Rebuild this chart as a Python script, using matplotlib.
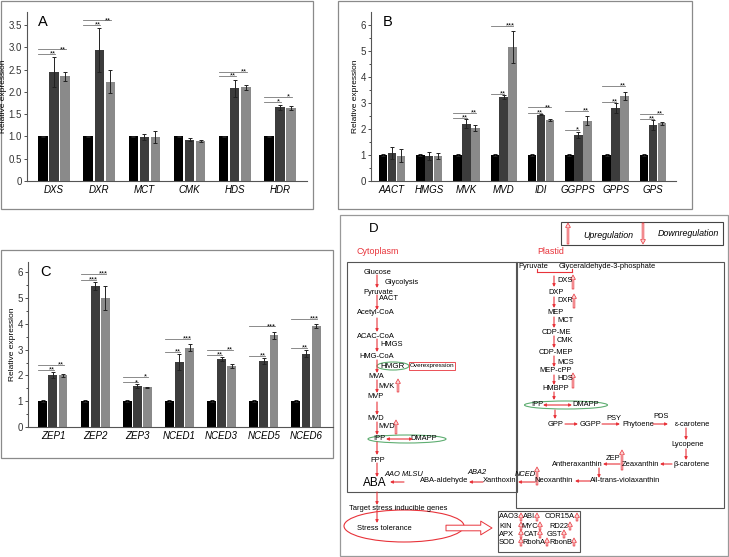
import numpy as np
import matplotlib
matplotlib.use('Agg')
import matplotlib.pyplot as plt
from matplotlib.patches import Rectangle, Ellipse, FancyArrowPatch

plt.rcParams['font.family'] = ['Liberation Sans', 'DejaVu Sans']

W, H = 729, 557
RED = '#e8333a'
GREEN = '#5fae72'

# ---- data: A (MEP pathway genes) ----
genes_a = ['DXS', 'DXR', 'MCT', 'CMK', 'HDS', 'HDR']
a_wt = [1.0, 1.0, 1.0, 1.0, 1.0, 1.0]
a_oe1 = [2.44, 2.93, 0.99, 0.93, 2.08, 1.65]
a_oe2 = [2.35, 2.23, 0.99, 0.90, 2.10, 1.64]
a_wt_err = [0.02, 0.02, 0.02, 0.02, 0.02, 0.02]
a_oe1_err = [0.33, 0.49, 0.07, 0.03, 0.19, 0.05]
a_oe2_err = [0.10, 0.25, 0.14, 0.03, 0.06, 0.05]
a_sig1 = ['**', '**', '', '', '**', '*']
a_sig2 = ['**', '**', '', '', '**', '*']

# ---- data: B (MVA pathway genes) ----
genes_b = ['AACT', 'HMGS', 'MVK', 'MVD', 'IDI', 'GGPPS', 'GPPS', 'GPS']
b_wt = [1.0, 1.0, 1.0, 1.0, 1.0, 1.0, 1.0, 1.0]
b_oe1 = [1.08, 0.96, 2.20, 3.22, 2.55, 1.77, 2.80, 2.16]
b_oe2 = [0.97, 0.95, 2.05, 5.15, 2.35, 2.32, 3.27, 2.22]
b_wt_err = [0.03, 0.03, 0.03, 0.03, 0.03, 0.03, 0.03, 0.03]
b_oe1_err = [0.22, 0.14, 0.17, 0.07, 0.03, 0.13, 0.20, 0.18]
b_oe2_err = [0.25, 0.12, 0.12, 0.62, 0.03, 0.17, 0.17, 0.05]
b_sig1 = ['', '', '**', '**', '**', '*', '**', '**']
b_sig2 = ['', '', '**', '***', '**', '**', '**', '**']

# ---- data: C (ABA pathway genes) ----
genes_c = ['ZEP1', 'ZEP2', 'ZEP3', 'NCED1', 'NCED3', 'NCED5', 'NCED6']
c_wt = [1.0, 1.0, 1.0, 1.0, 1.0, 1.0, 1.0]
c_oe1 = [2.02, 5.47, 1.58, 2.52, 2.63, 2.55, 2.85]
c_oe2 = [2.00, 5.00, 1.55, 3.08, 2.38, 3.55, 3.92]
c_wt_err = [0.03, 0.03, 0.03, 0.03, 0.03, 0.03, 0.03]
c_oe1_err = [0.10, 0.17, 0.07, 0.32, 0.07, 0.12, 0.12]
c_oe2_err = [0.05, 0.48, 0.02, 0.13, 0.08, 0.15, 0.07]
c_sig1 = ['**', '***', '*', '**', '**', '**', '**']
c_sig2 = ['**', '***', '*', '***', '**', '***', '***']

fig = plt.figure(figsize=(W / 100, H / 100), dpi=100)

# overlay in pixel coordinates for frames and the pathway diagram
ov = fig.add_axes([0, 0, 1, 1])
ov.set_xlim(0, W)
ov.set_ylim(H, 0)
ov.axis('off')


def px_axes(x0, y0, x1, y1):
    a = fig.add_axes([x0 / W, 1 - y1 / H, (x1 - x0) / W, (y1 - y0) / H])
    a.set_facecolor('none')
    return a


def frame(x0, y0, x1, y1, ec='#8a8a8a', lw=0.9):
    ov.add_patch(Rectangle((x0, y0), x1 - x0, y1 - y0, fill=False, ec=ec, lw=lw))


def bar_panel(ax, genes, vals, errs, sig1, sig2, ymax, xl, xr, width, off,
              pad, step, letter, yticks, ylabels):
    x = np.arange(len(genes))
    colors = ['black', '#3c3c3c', '#8a8a8a']
    for i in range(3):
        ax.bar(x + (i - 1) * off, vals[i], width, color=colors[i],
               yerr=errs[i], error_kw=dict(elinewidth=0.7, capsize=1.6,
                                           capthick=0.7, ecolor='#222222'))
    for j in range(len(genes)):
        h1 = vals[1][j] + errs[1][j] + pad
        h2 = max(h1, vals[2][j] + errs[2][j]) + step
        left = x[j] - off - width / 2
        if sig1[j]:
            ax.plot([left, x[j] + 0.02], [h1, h1], color='#777777', lw=0.6)
            ax.text(x[j] - 0.03, h1, sig1[j], fontsize=5.5, ha='center', va='center')
        if sig2[j]:
            ax.plot([left, x[j] + off + 0.02], [h2, h2], color='#777777', lw=0.6)
            ax.text(x[j] + off - 0.05, h2, sig2[j], fontsize=5.5, ha='center', va='center')
    ax.set_xlim(xl, xr)
    ax.set_ylim(0, ymax)
    ax.set_xticks(x)
    ax.set_xticklabels(genes, fontsize=7, style='italic')
    ax.set_yticks(yticks)
    ax.set_yticklabels(ylabels, fontsize=7)
    ax.tick_params(axis='x', length=0, pad=3)
    ax.tick_params(axis='y', length=2.5, width=0.6, pad=1, colors='#333333')
    for s in ['top', 'right']:
        ax.spines[s].set_visible(False)
    for s in ['left', 'bottom']:
        ax.spines[s].set_color('#555555')
        ax.spines[s].set_linewidth(0.8)
    ax.set_ylabel('Relative expression', fontsize=6, labelpad=1)
    ax.text(0.04, 0.98, letter, transform=ax.transAxes, fontsize=10.5,
            ha='left', va='top')


# panel frames
frame(1, 1, 313, 209)
frame(338, 1, 692, 209)
frame(1, 250, 333, 458)
frame(340, 215, 728, 556, ec='#999999')

# A
axA = px_axes(27, 12, 307, 181)
bar_panel(axA, genes_a, [a_wt, a_oe1, a_oe2], [a_wt_err, a_oe1_err, a_oe2_err],
          a_sig1, a_sig2, 3.79, -0.6, 5.6, 0.21, 0.245, 0.08, 0.1, 'A',
          np.arange(0, 3.6, 0.5), ['0', '0.5', '1.0', '1.5', '2.0', '2.5', '3.0', '3.5'])

# B
axB = px_axes(371, 12, 676, 181)
bar_panel(axB, genes_b, [b_wt, b_oe1, b_oe2], [b_wt_err, b_oe1_err, b_oe2_err],
          b_sig1, b_sig2, 6.5, -0.56, 7.62, 0.23, 0.24, 0.05, 0.2, 'B',
          np.arange(0, 7), [str(v) for v in range(7)])
axB.set_yticks(np.arange(0.5, 6.5, 1), minor=True)
axB.tick_params(axis='y', which='minor', length=1.5, width=0.5)

# C
axC = px_axes(28, 262, 333, 427)
bar_panel(axC, genes_c, [c_wt, c_oe1, c_oe2], [c_wt_err, c_oe1_err, c_oe2_err],
          c_sig1, c_sig2, 6.4, -0.59, 6.64, 0.21, 0.24, 0.08, 0.2, 'C',
          np.arange(0, 7), [str(v) for v in range(7)])
axC.set_yticks(np.arange(0.5, 6.5, 1), minor=True)
axC.tick_params(axis='y', which='minor', length=1.5, width=0.5)


# ---- D: pathway diagram ----
def txt(x, y, s, size=5.4, ha='center', **kw):
    ov.text(x, y, s, fontsize=size, ha=ha, va='center', **kw)


def arr(x0, y0, x1, y1, style='-|>'):
    ov.annotate('', xy=(x1, y1), xytext=(x0, y0),
                arrowprops=dict(arrowstyle=style, color=RED, lw=0.8,
                                mutation_scale=4, shrinkA=0, shrinkB=0))


def reg(x, y0, y1, fc='#fbd3d3'):
    ov.add_patch(FancyArrowPatch((x, y0), (x, y1),
                                 arrowstyle='simple,head_length=0.45,head_width=0.5,tail_width=0.18',
                                 mutation_scale=7, fc=fc, ec=RED, lw=0.5,
                                 shrinkA=0, shrinkB=0))


txt(374, 229, 'D', size=9.5)
frame(561, 222, 723, 245, ec='#444444', lw=0.8)
reg(568, 244, 223)
txt(608, 236, 'Upregulation', size=6.4, style='italic')
reg(643, 223, 244)
txt(688, 233, 'Downregulation', size=6.4, style='italic')
txt(378, 252, 'Cytoplasm', size=6.4, color=RED)
txt(551, 252, 'Plastid', size=6.4, color=RED)

frame(347, 262, 517, 492, ec='#555555', lw=0.8)
frame(516, 262, 724, 508, ec='#555555', lw=0.8)

# cytoplasm (MVA)
txt(378, 272, 'Glucose')
txt(385, 282, 'Glycolysis', ha='left')
txt(378, 292, 'Pyruvate')
txt(379, 299, 'AACT', ha='left')
txt(376, 313, 'Acetyl-CoA')
txt(376, 336, 'ACAC-CoA')
txt(380, 345, 'HMGS', ha='left')
txt(377, 356, 'HMG-CoA')
txt(393, 366, 'HMGR', size=5.8)
ov.add_patch(Ellipse((393, 366), 32, 8, fill=False, ec=GREEN, lw=0.8))
ov.add_patch(Rectangle((409, 362), 46, 8, fill=False, ec=RED, lw=0.6))
txt(432, 366, 'Overexpression', size=4.6)
txt(376, 377, 'MVA')
txt(378, 386, 'MVK', ha='left')
reg(398, 392, 379)
txt(376, 397, 'MVP')
txt(376, 418, 'MVD')
txt(378, 427, 'MVD', ha='left')
reg(396, 434, 420)
txt(379, 439, 'IPP')
txt(424, 439, 'DMAPP')
arr(386, 439, 413, 439, style='<|-|>')
ov.add_patch(Ellipse((407, 439), 78, 8, fill=False, ec=GREEN, lw=0.8))
txt(378, 460, 'FPP')
txt(384, 474, 'AAO MLSU', ha='left', style='italic')
txt(375, 483, 'ABA', size=8.5)
for y0, y1 in [(275, 288), (295, 310), (318, 332), (339, 352), (360, 373),
               (380, 393), (402, 415), (422, 435), (442, 455), (463, 477),
               (492, 505), (510, 523)]:
    arr(377, y0, 377, y1)
arr(404, 482, 390, 482)
txt(444, 481, 'ABA-aldehyde')
arr(483, 482, 469, 482)
txt(477, 473, 'ABA2', style='italic')
txt(500, 481, 'Xanthoxin')

txt(398, 508, 'Target stress inducible genes')
txt(384, 529, 'Stress tolerance')
ov.add_patch(Ellipse((404, 526), 120, 32, fill=False, ec=RED, lw=0.8))
ov.add_patch(FancyArrowPatch((446, 528), (492, 528),
                             arrowstyle='simple,head_length=0.9,head_width=1.1,tail_width=0.45',
                             mutation_scale=9, fc='white', ec=RED, lw=0.7,
                             shrinkA=0, shrinkB=0))

# stress genes box
frame(498, 511, 580, 552, ec='#555555', lw=0.8)
rows = [517, 526, 534, 542]
for s, y in zip(['AAO3', 'KIN', 'APX', 'SOD'], rows):
    txt(499, y, s, ha='left')
    reg(521, y + 4, y - 4)
for s, y, xa in zip(['ABI', 'MYC', 'CAT', 'RbohA'], rows, [537, 540, 540, 547]):
    txt(xa - 2, y, s, ha='right')
    reg(xa, y + 4, y - 4)
for s, y, xa in zip(['COR15A', 'RD22', 'GST', 'RbonB'], rows, [577, 570, 564, 574]):
    txt(xa - 2, y, s, ha='right')
    reg(xa, y + 4, y - 4)

# plastid (MEP)
txt(533, 267, 'Pyruvate')
txt(607, 267, 'Glyceraldehyde-3-phosphate')
ov.plot([537, 572], [272, 272], color=RED, lw=0.8)
ov.plot([537, 537], [272, 269], color=RED, lw=0.8)
ov.plot([572, 572], [272, 269], color=RED, lw=0.8)
steps = [('DXS', 'DXP', 276, 287, 280, 292),
         ('DXR', 'MEP', 297, 308, 301, 313),
         ('MCT', 'CDP-ME', 317, 328, 321, 332),
         ('CMK', 'CDP-MEP', 336, 348, 341, 353),
         ('MCS', 'MEP-cPP', 356, 367, 362, 371),
         ('HDS', 'HMBPP', 375, 385, 378, 388)]
for enz, prod, y0, y1, ye, yp in steps:
    arr(554, y0, 554, y1)
    txt(557, ye, enz, ha='left')
    txt(556, yp, prod)
reg(573, 289, 275)
reg(574, 308, 294)
reg(573, 388, 373)
arr(554, 392, 554, 400)
txt(537, 405, 'IPP')
txt(586, 405, 'DMAPP')
arr(543, 405, 572, 405, style='<|-|>')
ov.add_patch(Ellipse((566, 405), 83, 8, fill=False, ec=GREEN, lw=0.8))
arr(555, 410, 555, 419)
txt(556, 424, 'GPP')
arr(565, 424, 578, 424)
txt(591, 424, 'GGPP')
arr(602, 424, 620, 424)
txt(614, 418, 'PSY')
txt(638, 424, 'Phytoene')
arr(653, 424, 668, 424)
txt(661, 417, 'PDS')
txt(692, 424, '\u03b5-carotene')
arr(686, 428, 686, 440)
txt(688, 444, 'Lycopene')
arr(686, 449, 686, 460)
txt(692, 464, '\u03b2-carotene')
arr(672, 464, 660, 464)
txt(640, 464, 'Zeaxanthin')
arr(620, 464, 603, 464)
txt(613, 458, 'ZEP')
reg(622, 470, 450)
txt(577, 464, 'Antheraxanthin')
arr(599, 468, 599, 478)
txt(625, 481, 'All-trans-violaxanthin')
arr(590, 481, 575, 481)
txt(554, 481, 'Neoxanthin')
txt(515, 475, 'NCED', ha='left', style='italic')
reg(537, 485, 467)
arr(535, 482, 518, 482)

fig.savefig('out.png', dpi=100)
